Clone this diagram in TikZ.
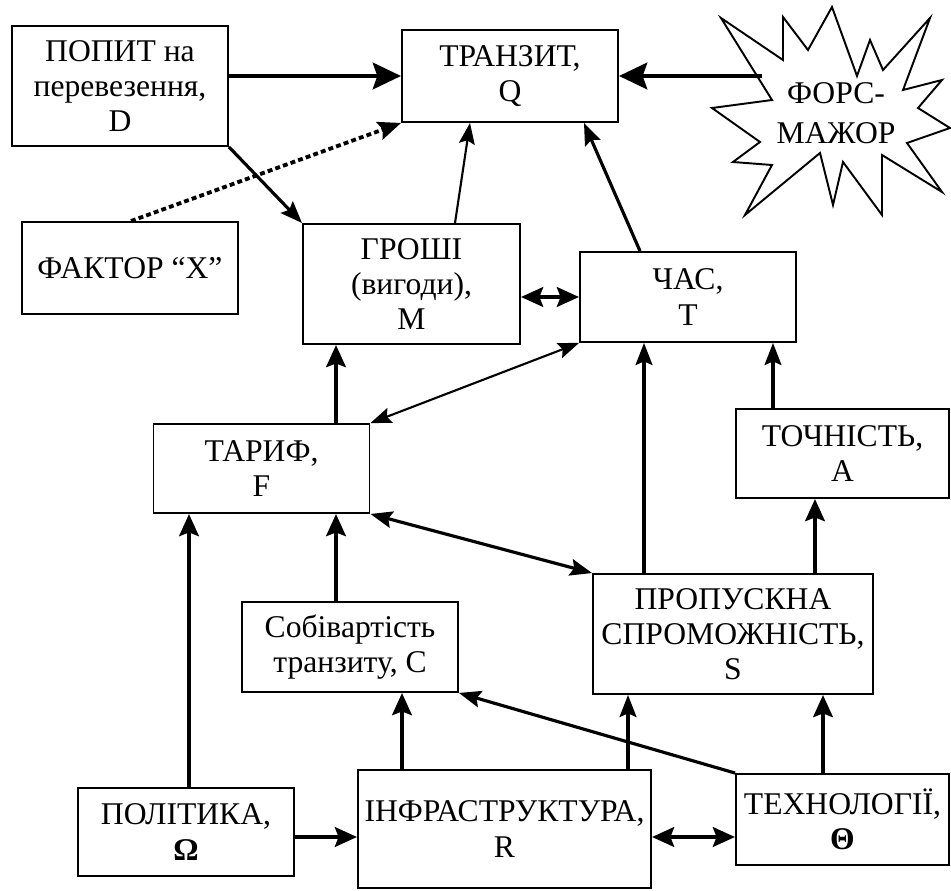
\documentclass[tikz,border=0pt]{standalone}
\usepackage{fontspec}
\setmainfont{Liberation Serif}
\usetikzlibrary{arrows.meta}

\begin{document}
\begin{tikzpicture}[x=0.02cm, y=-0.02cm,
  box/.style={draw, line width=1.1pt, align=center, inner sep=2pt,
    minimum width=4.32cm, minimum height=1.8cm,
    font=\fontsize{18}{20}\selectfont},
  tall/.style={box, minimum height=2.4cm},
  heavy/.style={line width=2.8pt, >={Stealth[length=12.5pt,width=11pt,inset=2pt]}},
  heavybig/.style={line width=2.8pt, >={Stealth[length=16pt,width=15pt,inset=2.5pt]}},
  mid/.style={line width=1.8pt, >={Stealth[length=12.5pt,width=9.5pt,inset=2pt]}},
  light/.style={line width=1.2pt, >={Stealth[length=12pt,width=9pt,inset=2pt]}},
  dotline/.style={line width=2.2pt, dash pattern=on 2.8pt off 1.8pt,
    >={Stealth[length=13pt,width=10.5pt,inset=2pt]}}]
\useasboundingbox (0,0) rectangle (951,891);

\node[tall] (D) at (120,86) {ПОПИТ на\\перевезення,\\D};
\node[box, minimum height=1.84cm] (Q) at (510,76) {ТРАНЗИТ,\\Q};
\node[box, minimum height=1.84cm] (X) at (130,268) {ФАКТОР “X”};
\node[tall, minimum width=4.34cm] (M) at (411.5,284) {ГРОШІ\\(вигоди),\\M};
\node[box] (T) at (688,297) {ЧАС,\\T};
\node[box, minimum height=1.78cm] (F) at (261.5,468.5) {ТАРИФ,\\F};
\node[box, minimum width=4.26cm, minimum height=1.78cm] (A) at (842.5,453.5) {ТОЧНІСТЬ,\\A};
\node[box] (C) at (350,647) {Собівартість\\транзиту, C};
\node[tall, minimum width=5.6cm] (S) at (733,634) {ПРОПУСКНА\\СПРОМОЖНІСТЬ,\\S};
\node[box, minimum height=1.76cm] (Om) at (186,832) {ПОЛІТИКА,\\\textbf{Ω}};
\node[tall, minimum width=5.86cm, minimum height=2.36cm] (R) at (504.5,829) {ІНФРАСТРУКТУРА,\\R};
\node[box, minimum width=4.26cm, minimum height=1.82cm] (Th) at (842.5,819.5) {ТЕХНОЛОГІЇ,\\\textbf{Θ}};

%force majeure star
\draw[line width=1.1pt] (712,108) -- (772,100) -- (721,18) -- (783,60) -- (783,17)
  -- (808,50) -- (832,7) -- (857,76) -- (870,40) -- (883,70) -- (930,18) -- (903,90)
  -- (942,80) -- (918,108) -- (950,128) -- (907,143) -- (942,192) -- (882,155)
  -- (882,215) -- (843,162) -- (833,205) -- (820,153) -- (745,215) -- (772,165)
  -- (733,162) -- (760,142) -- cycle;
\node[font=\fontsize{18}{22.5}\selectfont, align=center] (fm) at (836,113) {ФОРС-\\МАЖОР};
\coordinate (fmin) at (762,76);

%arrows into transit
\draw[heavybig,->] (D.east |- Q.west) -- (Q.west);
\draw[heavybig,->] (fmin) -- (Q.east);
\draw[dotline,->] (X.north -| 131,0) -- (Q.south west);
\draw[light,->] (M.north -| 455,0) -- (Q.south -| 470,0);
\draw[mid,->] (T.north -| 640,0) -- (Q.south -| 584,0);
\draw[mid,->] (D.south east) -- (M.north west);

%middle row
\draw[heavy,<->] (M.east |- T.west) -- (T.west);
\draw[heavy,->] (F.north -| 336,0) -- (M.south -| 336,0);
\draw[light,<->] (F.north east) -- (T.south west);
\draw[mid,->] (S.north -| 644,0) -- (T.south -| 644,0);
\draw[mid,->] (A.north -| 773,0) -- (T.south -| 773,0);
\draw[heavy,->] (S.north -| 815,0) -- (A.south -| 815,0);
\draw[mid,<->] (F.south east) -- (S.north west);
\draw[heavy,->] (C.north -| 336,0) -- (F.south -| 336,0);

%bottom row
\draw[heavy,->] (Om.north -| 189,0) -- (F.south -| 189,0);
\draw[heavy,->] (Om.east |- 0,837) -- (R.west |- 0,837);
\draw[heavy,->] (R.north -| 402,0) -- (C.south -| 402,0);
\draw[mid,->] (R.north -| 628,0) -- (S.south -| 628,0);
\draw[mid,->] (Th.north west) -- (C.south east);
\draw[heavy,<->] (R.east |- 0,837) -- (Th.west |- 0,837);
\draw[heavy,->] (Th.north -| 823,0) -- (S.south -| 823,0);
\end{tikzpicture}
\end{document}
